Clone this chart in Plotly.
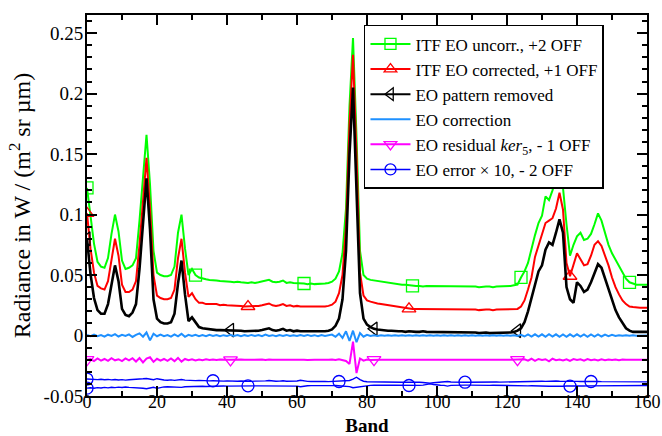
import plotly.graph_objects as go

# ---------------- data ----------------
bands = list(range(0, 161))

eo_pattern_removed = [
    0.080, 0.051, 0.031, 0.021, 0.018, 0.018, 0.026, 0.043, 0.058, 0.045,
    0.022, 0.017, 0.016, 0.019, 0.026, 0.055, 0.095, 0.130, 0.088, 0.030,
    0.014, 0.011, 0.010, 0.010, 0.011, 0.018, 0.043, 0.062, 0.034, 0.012,
    0.015, 0.011, 0.007, 0.006, 0.0055, 0.005, 0.005, 0.0045, 0.0045, 0.0045,
    0.0045, 0.0045, 0.004, 0.004, 0.004, 0.0035, 0.0035, 0.004, 0.0035, 0.004,
    0.0045, 0.005, 0.006, 0.0045, 0.004, 0.0045, 0.0055, 0.004, 0.0045, 0.0035,
    0.004, 0.0035, 0.0035, 0.003, 0.0035, 0.003, 0.003, 0.0035, 0.0035, 0.004,
    0.005, 0.008, 0.014, 0.030, 0.070, 0.150, 0.205, 0.120, 0.035, 0.014,
    0.009, 0.007, 0.0055, 0.005, 0.0045, 0.0045, 0.004, 0.004, 0.0035, 0.0035,
    0.0035, 0.003, 0.0035, 0.003, 0.003, 0.003, 0.0035, 0.003, 0.003, 0.003,
    0.003, 0.003, 0.0025, 0.003, 0.003, 0.0025, 0.0025, 0.003, 0.0025, 0.0025,
    0.0025, 0.0025, 0.002, 0.0025, 0.0025, 0.002, 0.002, 0.0025, 0.002, 0.002,
    0.0025, 0.0025, 0.003, 0.004, 0.006, 0.011, 0.020, 0.031, 0.044, 0.053,
    0.058, 0.071, 0.077, 0.075, 0.085, 0.096, 0.085, 0.040, 0.030, 0.027,
    0.044, 0.041, 0.036, 0.038, 0.044, 0.052, 0.059, 0.056, 0.047, 0.038,
    0.028, 0.021, 0.015, 0.010, 0.006, 0.004, 0.003, 0.003, 0.003, 0.003, 0.003,
]

itf_corrected = [
    0.101, 0.072, 0.052, 0.041, 0.039, 0.038, 0.045, 0.064, 0.080, 0.066,
    0.042, 0.036, 0.036, 0.038, 0.045, 0.075, 0.112, 0.147, 0.105, 0.050,
    0.033, 0.031, 0.030, 0.030, 0.031, 0.038, 0.064, 0.080, 0.052, 0.032,
    0.035, 0.030, 0.027, 0.027, 0.026, 0.026, 0.0265, 0.026, 0.025, 0.0255,
    0.025, 0.025, 0.0245, 0.025, 0.0245, 0.024, 0.024, 0.0245, 0.024, 0.0245,
    0.025, 0.026, 0.0265, 0.025, 0.0245, 0.025, 0.026, 0.0245, 0.025, 0.024,
    0.0245, 0.024, 0.024, 0.0235, 0.024, 0.0235, 0.0235, 0.024, 0.024, 0.0245,
    0.0255, 0.028, 0.035, 0.050, 0.090, 0.175, 0.232, 0.150, 0.052, 0.033,
    0.029, 0.028, 0.027, 0.0265, 0.026, 0.0255, 0.025, 0.0245, 0.024, 0.0235,
    0.023, 0.0225, 0.022, 0.022, 0.022, 0.022, 0.0215, 0.022, 0.022, 0.0215,
    0.0215, 0.022, 0.0215, 0.0215, 0.022, 0.0215, 0.0215, 0.0215, 0.022, 0.0215,
    0.0215, 0.0215, 0.021, 0.0215, 0.0215, 0.0215, 0.021, 0.0215, 0.0215, 0.0215,
    0.0215, 0.022, 0.022, 0.022, 0.024, 0.029, 0.038, 0.048, 0.065, 0.074,
    0.082, 0.093, 0.095, 0.097, 0.105, 0.118, 0.104, 0.060, 0.049, 0.058,
    0.068, 0.063, 0.058, 0.059, 0.066, 0.075, 0.078, 0.074, 0.066, 0.058,
    0.048, 0.040, 0.034, 0.029, 0.026, 0.024, 0.0235, 0.023, 0.023, 0.023, 0.023,
]

itf_uncorrected = [
    0.122, 0.100, 0.076, 0.061, 0.057, 0.056, 0.064, 0.084, 0.100, 0.086,
    0.062, 0.055, 0.056, 0.058, 0.064, 0.095, 0.130, 0.166, 0.125, 0.070,
    0.052, 0.050, 0.049, 0.049, 0.050, 0.057, 0.085, 0.100, 0.072, 0.050,
    0.055, 0.050, 0.048, 0.047, 0.0465, 0.046, 0.046, 0.0455, 0.045, 0.045,
    0.045, 0.0445, 0.044, 0.0445, 0.044, 0.0435, 0.0435, 0.044, 0.0435, 0.044,
    0.0445, 0.045, 0.046, 0.0445, 0.044, 0.0445, 0.0455, 0.0435, 0.044, 0.0435,
    0.0435, 0.043, 0.043, 0.0425, 0.043, 0.0425, 0.0425, 0.043, 0.043, 0.0435,
    0.0445, 0.047, 0.053, 0.068, 0.105, 0.190, 0.246, 0.165, 0.070, 0.050,
    0.047, 0.046, 0.0455, 0.045, 0.0445, 0.044, 0.044, 0.0435, 0.043, 0.0425,
    0.042, 0.042, 0.0415, 0.041, 0.041, 0.041, 0.0405, 0.041, 0.041, 0.0405,
    0.0405, 0.041, 0.0405, 0.0405, 0.041, 0.0405, 0.0405, 0.0405, 0.041, 0.0405,
    0.0405, 0.0405, 0.040, 0.0405, 0.0405, 0.0405, 0.040, 0.0405, 0.0405, 0.041,
    0.041, 0.041, 0.0415, 0.042, 0.048, 0.053, 0.060, 0.072, 0.083, 0.093,
    0.099, 0.115, 0.112, 0.120, 0.130, 0.136, 0.122, 0.092, 0.066, 0.075,
    0.082, 0.085, 0.079, 0.080, 0.084, 0.092, 0.101, 0.095, 0.085, 0.075,
    0.068, 0.063, 0.057, 0.052, 0.047, 0.044, 0.043, 0.042, 0.042, 0.042, 0.042,
]

eo_correction = [
    0.0005, -0.0005, 0.0008, -0.0006, 0.0004, -0.0010, 0.0007, -0.0003, 0.0012, -0.0008,
    0.0006, -0.0004, 0.0009, -0.0012, 0.0005, 0.0018, -0.0010, 0.0025, -0.0040, 0.0015,
    -0.0006, 0.0008, -0.0005, 0.0004, -0.0009, 0.0010, -0.0007, 0.0014, -0.0011, 0.0006,
    -0.0004, 0.0005, -0.0006, 0.0003, -0.0005, 0.0006, -0.0003, 0.0004, -0.0005, 0.0003,
    -0.0004, 0.0005, -0.0003, 0.0004, -0.0006, 0.0003, -0.0004, 0.0005, -0.0003, 0.0004,
    -0.0005, 0.0007, -0.0004, 0.0003, -0.0005, 0.0004, -0.0003, 0.0005, -0.0004, 0.0003,
    -0.0004, 0.0004, -0.0003, 0.0005, -0.0004, 0.0003, -0.0005, 0.0004, -0.0003, 0.0004,
    0.0008, -0.0010, 0.0015, -0.0020, 0.0035, -0.0045, 0.0040, -0.0055, 0.0020, -0.0010,
    0.0006, -0.0004, 0.0003, -0.0003, 0.0003, -0.0002, 0.0003, -0.0002, 0.0002, -0.0002,
    0.0002, -0.0002, 0.0002, -0.0002, 0.0002, -0.0002, 0.0002, -0.0002, 0.0002, -0.0002,
    0.0002, -0.0002, 0.0002, -0.0002, 0.0002, -0.0002, 0.0002, -0.0002, 0.0002, -0.0002,
    0.0002, -0.0002, 0.0002, -0.0002, 0.0002, -0.0002, 0.0002, -0.0002, 0.0002, -0.0002,
    0.0002, -0.0002, 0.0003, -0.0003, 0.0006, -0.0008, 0.0009, -0.0009, 0.0010, -0.0009,
    0.0010, -0.0010, 0.0011, -0.0009, 0.0010, -0.0010, 0.0009, -0.0010, 0.0010, -0.0009,
    0.0010, -0.0009, 0.0009, -0.0010, 0.0009, -0.0008, 0.0009, -0.0008, 0.0007, -0.0006,
    0.0005, -0.0004, 0.0003, -0.0002, 0.0002, -0.0002, 0.0002, -0.0001, 0.0001, -0.0001, 0.0001,
]

eo_residual = [
    -0.0200, -0.0195, -0.0212, -0.0190, -0.0208, -0.0194, -0.0210, -0.0188, -0.0205, -0.0196,
    -0.0212, -0.0190, -0.0206, -0.0188, -0.0215, -0.0186, -0.0222, -0.0190, -0.0180, -0.0218,
    -0.0192, -0.0208, -0.0194, -0.0210, -0.0190, -0.0212, -0.0185, -0.0216, -0.0194, -0.0204,
    -0.0196, -0.0206, -0.0198, -0.0204, -0.0197, -0.0203, -0.0198, -0.0203, -0.0199, -0.0202,
    -0.0200, -0.0201, -0.0199, -0.0202, -0.0199, -0.0201, -0.0200, -0.0202, -0.0199, -0.0201,
    -0.0199, -0.0202, -0.0198, -0.0201, -0.0200, -0.0202, -0.0199, -0.0201, -0.0200, -0.0201,
    -0.0199, -0.0201, -0.0200, -0.0202, -0.0199, -0.0201, -0.0200, -0.0201, -0.0199, -0.0201,
    -0.0198, -0.0203, -0.0196, -0.0205, -0.0210, -0.0235, -0.0050, -0.0310, -0.0190, -0.0208,
    -0.0198, -0.0202, -0.0200, -0.0201, -0.0200, -0.0201, -0.0200, -0.0201, -0.0200, -0.0201,
    -0.0200, -0.0201, -0.0200, -0.0201, -0.0200, -0.0201, -0.0200, -0.0201, -0.0200, -0.0201,
    -0.0200, -0.0201, -0.0200, -0.0201, -0.0200, -0.0201, -0.0200, -0.0201, -0.0200, -0.0201,
    -0.0200, -0.0201, -0.0200, -0.0201, -0.0200, -0.0201, -0.0200, -0.0201, -0.0200, -0.0201,
    -0.0200, -0.0201, -0.0200, -0.0200, -0.0203, -0.0196, -0.0208, -0.0192, -0.0210, -0.0194,
    -0.0202, -0.0196, -0.0214, -0.0192, -0.0204, -0.0198, -0.0206, -0.0196, -0.0210, -0.0195,
    -0.0203, -0.0196, -0.0208, -0.0194, -0.0204, -0.0198, -0.0207, -0.0197, -0.0204, -0.0199,
    -0.0203, -0.0198, -0.0204, -0.0199, -0.0201, -0.0200, -0.0201, -0.0200, -0.0200, -0.0200, -0.0200,
]

eo_error_upper = [
    -0.0360, -0.0363, -0.0360, -0.0365, -0.0362, -0.0366, -0.0363, -0.0367, -0.0364, -0.0368,
    -0.0365, -0.0369, -0.0366, -0.0364, -0.0368, -0.0362, -0.0358, -0.0355, -0.0362, -0.0366,
    -0.0357, -0.0365, -0.0368, -0.0370, -0.0367, -0.0371, -0.0368, -0.0364, -0.0369, -0.0372,
    -0.0370, -0.0373, -0.0371, -0.0374, -0.0372, -0.0375, -0.0374, -0.0376, -0.0374, -0.0377,
    -0.0375, -0.0377, -0.0376, -0.0378, -0.0376, -0.0378, -0.0377, -0.0379, -0.0377, -0.0378,
    -0.0377, -0.0375, -0.0372, -0.0376, -0.0378, -0.0377, -0.0374, -0.0378, -0.0379, -0.0378,
    -0.0376, -0.0370, -0.0376, -0.0379, -0.0380, -0.0379, -0.0380, -0.0381, -0.0380, -0.0381,
    -0.0380, -0.0381, -0.0380, -0.0378, -0.0376, -0.0372, -0.0360, -0.0345, -0.0365, -0.0378,
    -0.0382, -0.0383, -0.0384, -0.0384, -0.0385, -0.0385, -0.0384, -0.0385, -0.0386, -0.0385,
    -0.0386, -0.0386, -0.0385, -0.0386, -0.0387, -0.0386, -0.0388, -0.0392, -0.0395, -0.0390,
    -0.0386, -0.0385, -0.0384, -0.0380, -0.0384, -0.0386, -0.0386, -0.0385, -0.0386, -0.0386,
    -0.0385, -0.0386, -0.0385, -0.0386, -0.0385, -0.0384, -0.0385, -0.0384, -0.0385, -0.0384,
    -0.0384, -0.0383, -0.0384, -0.0383, -0.0382, -0.0381, -0.0380, -0.0381, -0.0379, -0.0380,
    -0.0378, -0.0379, -0.0377, -0.0378, -0.0376, -0.0378, -0.0377, -0.0379, -0.0378, -0.0380,
    -0.0379, -0.0380, -0.0379, -0.0380, -0.0380, -0.0381, -0.0380, -0.0381, -0.0381, -0.0382,
    -0.0381, -0.0382, -0.0382, -0.0383, -0.0382, -0.0383, -0.0383, -0.0383, -0.0383, -0.0383, -0.0383,
]

eo_error_lower = [
    -0.0435, -0.0432, -0.0436, -0.0431, -0.0434, -0.0429, -0.0433, -0.0428, -0.0431, -0.0427,
    -0.0430, -0.0426, -0.0429, -0.0431, -0.0427, -0.0432, -0.0436, -0.0440, -0.0433, -0.0428,
    -0.0437, -0.0428, -0.0425, -0.0424, -0.0426, -0.0423, -0.0425, -0.0429, -0.0424, -0.0422,
    -0.0423, -0.0421, -0.0422, -0.0420, -0.0421, -0.0419, -0.0420, -0.0418, -0.0419, -0.0417,
    -0.0418, -0.0417, -0.0418, -0.0416, -0.0417, -0.0416, -0.0416, -0.0415, -0.0416, -0.0416,
    -0.0416, -0.0418, -0.0421, -0.0417, -0.0416, -0.0416, -0.0419, -0.0416, -0.0415, -0.0416,
    -0.0418, -0.0424, -0.0418, -0.0415, -0.0414, -0.0415, -0.0414, -0.0413, -0.0414, -0.0413,
    -0.0414, -0.0413, -0.0414, -0.0416, -0.0418, -0.0422, -0.0432, -0.0428, -0.0424, -0.0416,
    -0.0413, -0.0412, -0.0411, -0.0412, -0.0411, -0.0411, -0.0412, -0.0411, -0.0410, -0.0411,
    -0.0411, -0.0412, -0.0413, -0.0412, -0.0411, -0.0412, -0.0410, -0.0404, -0.0400, -0.0405,
    -0.0410, -0.0411, -0.0412, -0.0418, -0.0412, -0.0410, -0.0410, -0.0411, -0.0410, -0.0410,
    -0.0411, -0.0410, -0.0411, -0.0410, -0.0411, -0.0412, -0.0411, -0.0412, -0.0411, -0.0412,
    -0.0412, -0.0413, -0.0412, -0.0413, -0.0414, -0.0415, -0.0416, -0.0415, -0.0417, -0.0416,
    -0.0418, -0.0417, -0.0419, -0.0418, -0.0420, -0.0418, -0.0419, -0.0417, -0.0418, -0.0416,
    -0.0417, -0.0416, -0.0417, -0.0416, -0.0416, -0.0415, -0.0416, -0.0415, -0.0415, -0.0414,
    -0.0415, -0.0414, -0.0414, -0.0413, -0.0414, -0.0413, -0.0413, -0.0413, -0.0413, -0.0413, -0.0413,
]

legend_names = [
    "ITF EO uncorr., +2 OFF",
    "ITF EO corrected, +1 OFF",
    "EO pattern removed",
    "EO correction",
    "EO residual <i>ker</i><sub>5</sub>, - 1 OFF",
    "EO error × 10, - 2 OFF",
]

x_tick_vals = [0, 20, 40, 60, 80, 100, 120, 140, 160]
y_tick_vals = [-0.05, 0, 0.05, 0.1, 0.15, 0.2, 0.25]
y_tick_text = ["-0.05", "0", "0.05", "0.1", "0.15", "0.2", "0.25"]

# ---------------- styles ----------------
FONT = "'Liberation Serif', 'Times New Roman', Times, 'DejaVu Serif', serif"
series = [
    # (values, name index, color, width, symbol, marker step, show legend)
    (itf_uncorrected, 0, "#00ff00", 2.0, "square-open", 31, True),
    (itf_corrected, 1, "#ff0000", 2.0, "triangle-up-open", 46, True),
    (eo_pattern_removed, 2, "#000000", 2.6, "triangle-left-open", 41, True),
    (eo_correction, 3, "#1e90ff", 2.0, None, None, True),
    (eo_residual, 4, "#ff00ff", 2.0, "triangle-down-open", 41, True),
    (eo_error_upper, 5, "#0000ff", 1.4, "circle-open", 36, True),
    (eo_error_lower, 5, "#0000ff", 1.4, "circle-open", 46, False),
]

fig = go.Figure()
for vals, ni, color, w, sym, step, showleg in series:
    fig.add_trace(go.Scatter(
        x=bands, y=vals, mode="lines",
        line=dict(color=color, width=w),
        showlegend=False, hoverinfo="skip",
    ))
    if sym is not None:
        idx = list(range(0, len(bands), step))
        fig.add_trace(go.Scatter(
            x=[bands[i] for i in idx], y=[vals[i] for i in idx],
            mode="markers",
            marker=dict(symbol=sym, size=12, color=color, line=dict(color=color, width=1.3)),
            showlegend=False, hoverinfo="skip",
        ))

# legend entries
for vals, ni, color, w, sym, step, showleg in series:
    if not showleg:
        continue
    if sym is None:
        fig.add_trace(go.Scatter(x=[None], y=[None], mode="lines",
                                 line=dict(color=color, width=w), name=legend_names[ni]))
    else:
        fig.add_trace(go.Scatter(x=[None], y=[None], mode="lines+markers",
                                 line=dict(color=color, width=min(w, 2.0)),
                                 marker=dict(symbol=sym, size=11, color=color,
                                             line=dict(color=color, width=1.3)),
                                 name=legend_names[ni]))

axis_common = dict(
    showline=True, linecolor="black", linewidth=2, mirror="ticks",
    ticks="inside", ticklen=10, tickwidth=2, tickcolor="black",
    showgrid=False, zeroline=False, automargin=False,
)

fig.update_xaxes(
    range=[0, 160], tickvals=x_tick_vals, ticklabelstandoff=-12,
    tickfont=dict(family=FONT, size=18, color="black"),
    minor=dict(dtick=10, tick0=0, ticks="inside", ticklen=5, tickwidth=1.5, tickcolor="black"),
    title=dict(text="<b>Band</b>", font=dict(family=FONT, size=19, color="black"), standoff=12),
    **axis_common,
)
fig.update_yaxes(
    range=[-0.05, 0.265], tickvals=y_tick_vals, ticktext=y_tick_text, ticklabelstandoff=-2,
    tickfont=dict(family=FONT, size=19, color="black"),
    minor=dict(dtick=0.01, tick0=0, ticks="inside", ticklen=5, tickwidth=1.5, tickcolor="black"),
    title=dict(text="Radiance in W / (m<sup>2</sup> sr µm)",
               font=dict(family=FONT, size=24, color="black"), standoff=6),
    **axis_common,
)

fig.update_layout(
    width=662, height=436,
    margin=dict(l=87, r=15, t=15, b=40),
    paper_bgcolor="white", plot_bgcolor="white",
    font=dict(family=FONT, color="black"),
    legend=dict(
        x=0.4946, y=0.974, xanchor="left", yanchor="top",
        bgcolor="white", bordercolor="black", borderwidth=1.5,
        font=dict(family=FONT, size=17, color="black"),
        itemwidth=40, tracegroupgap=0,
    ),
)

fig.write_html("out.html")
